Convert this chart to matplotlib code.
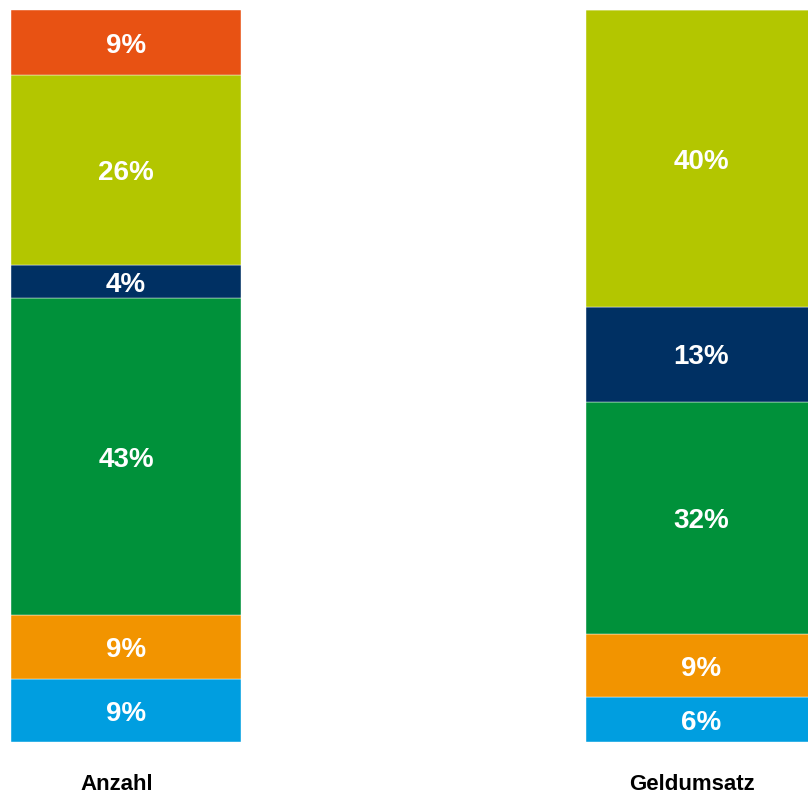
import matplotlib.pyplot as plt
import numpy as np

plt.rcParams['font.family'] = ['Liberation Sans', 'DejaVu Sans']

categories = ["Anzahl", "Geldumsatz"]
# Anteile in Prozent, von unten nach oben gestapelt
segments = ["blau", "orange", "gruen", "dunkelblau", "hellgruen", "rot"]
values = {
    "blau":       [8.6, 6.1],
    "orange":     [8.7, 8.6],
    "gruen":      [43.4, 31.8],
    "dunkelblau": [4.4, 12.9],
    "hellgruen":  [26.0, 40.6],
    "rot":        [8.9, 0.0],
}
labels = {
    "blau":       ["9%", "6%"],
    "orange":     ["9%", "9%"],
    "gruen":      ["43%", "32%"],
    "dunkelblau": ["4%", "13%"],
    "hellgruen":  ["26%", "40%"],
    "rot":        ["9%", ""],
}
colors = {
    "blau": "#009EE0",
    "orange": "#F29400",
    "gruen": "#00913A",
    "dunkelblau": "#003063",
    "hellgruen": "#B3C600",
    "rot": "#E85213",
}

fig = plt.figure(figsize=(8.08, 7.96), dpi=100)
ax = fig.add_axes([0, 54 / 796, 1, 732 / 796])

x = np.arange(len(categories))
bottom = np.zeros(len(categories))
for seg in segments:
    v = np.array(values[seg])
    bars = ax.bar(x, v, bottom=bottom, width=0.4, color=colors[seg],
                  edgecolor="white", linewidth=0.3)
    for i, b in enumerate(bars):
        if labels[seg][i]:
            ax.text(b.get_x() + b.get_width() / 2, bottom[i] + v[i] / 2,
                    labels[seg][i], ha="center", va="center_baseline",
                    color="white", fontsize=20, fontweight="bold")
    bottom += v

# Kategorienbeschriftung unter den Balken
for i, cat in enumerate(categories):
    ax.text(x[i] - 0.017, -5.4, cat, ha="center", va="center_baseline",
            fontsize=16, fontweight="bold", color="black")

ax.set_xlim(-0.219, 1.185)
ax.set_ylim(0, 100)
ax.axis("off")

fig.savefig("out.png", dpi=100)
